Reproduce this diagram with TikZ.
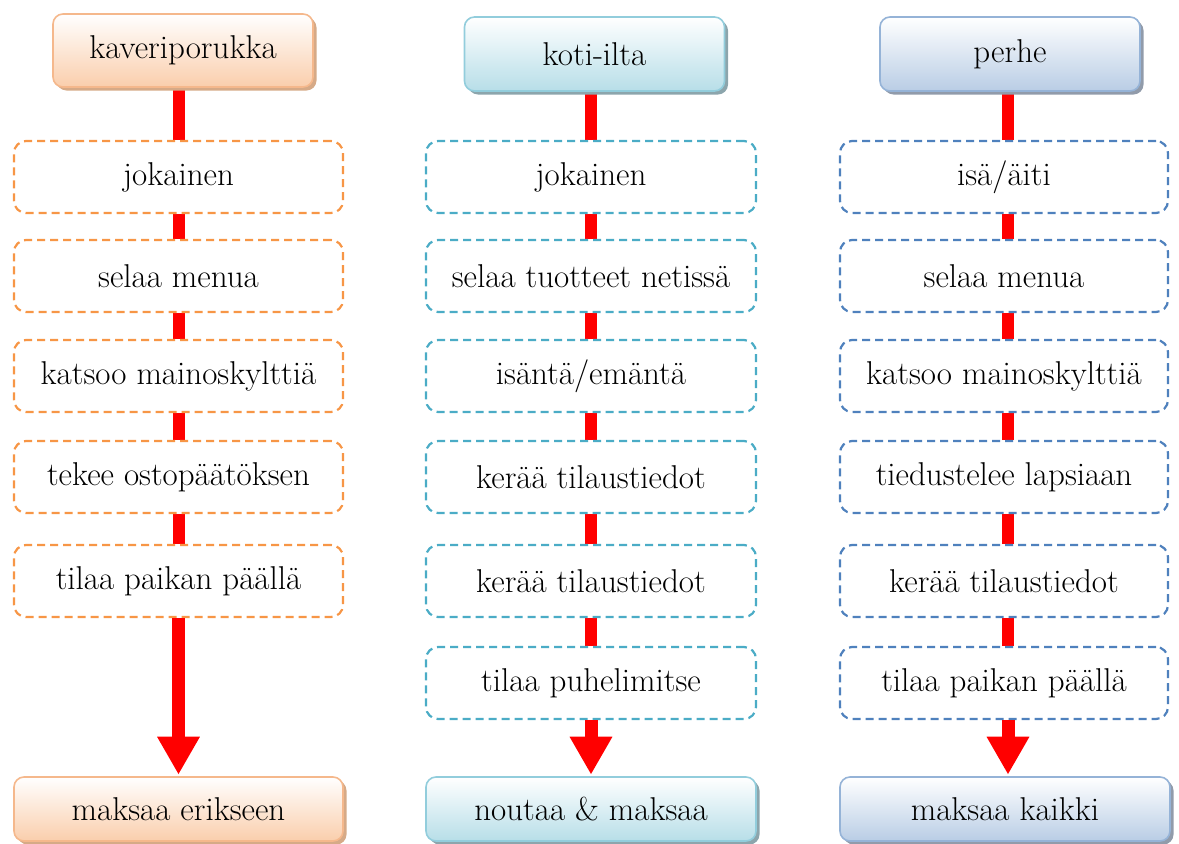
\documentclass[tikz,border=0pt]{standalone}
\usepackage{fontspec}
\usetikzlibrary{arrows.meta,shadows,backgrounds}
% colour sets: border line, gradient end, shadow, dashed step border
\definecolor{orline}{RGB}{245,184,140}
\definecolor{orfill}{RGB}{250,206,172}
\definecolor{orshadow}{RGB}{214,170,135}
\definecolor{ordash}{RGB}{247,150,70}
\definecolor{tqline}{RGB}{146,205,220}
\definecolor{tqfill}{RGB}{183,222,232}
\definecolor{tqshadow}{RGB}{140,165,172}
\definecolor{tqdash}{RGB}{75,172,198}
\definecolor{blline}{RGB}{149,179,215}
\definecolor{blfill}{RGB}{185,205,229}
\definecolor{blshadow}{RGB}{145,155,170}
\definecolor{bldash}{RGB}{79,129,189}
\begin{document}
\begin{tikzpicture}[x=1pt,y=-1pt,
  every node/.style={font=\fontsize{33}{38}\selectfont, inner sep=0pt, align=center},
  endbox/.style={rounded corners=10pt, draw=#1line, line width=1.6pt,
    top color=white, bottom color=#1fill, minimum width=260pt, minimum height=73pt,
    drop shadow={shadow xshift=3.5pt, shadow yshift=-3.5pt, fill=#1shadow, opacity=1}},
  stepbox/.style={draw=#1dash, dash pattern=on 8pt off 5pt, line width=2.2pt,
    rounded corners=12pt, minimum width=329pt, minimum height=72pt, fill=white},
  link/.style={draw=red, line width=12pt},
  bigarrow/.style={draw=red, line width=13pt, -{Triangle[width=40pt,length=38pt]}}
]
\path[use as bounding box] (0,0) rectangle (1179,844);

% column x positions of the connectors
\coordinate (x1) at (178.5,0);
\coordinate (x2) at (591,0);
\coordinate (x3) at (1008,0);

% --- first column
\node[endbox=or] (h1) at (183,50.5) {kaveriporukka};
\node[stepbox=or] (a1) at (178.5,177) {jokainen};
\node[stepbox=or] (a2) at (178.5,276) {selaa menua};
\node[stepbox=or] (a3) at (178.5,376) {katsoo mainoskylttiä};
\node[stepbox=or] (a4) at (178.5,477) {tekee ostopäätöksen};
\node[stepbox=or] (a5) at (178.5,581) {tilaa paikan päällä};
\node[endbox=or, minimum width=329pt, minimum height=64pt] (f1) at (178.5,809) {maksaa erikseen};

% --- second column
\node[endbox=tq, minimum height=74pt] (h2) at (594.5,54) {koti-ilta};
\node[stepbox=tq, minimum width=330pt] (b1) at (591,177) {jokainen};
\node[stepbox=tq, minimum width=330pt] (b2) at (591,276) {selaa tuotteet netissä};
\node[stepbox=tq, minimum width=330pt] (b3) at (591,376) {isäntä/emäntä};
\node[stepbox=tq, minimum width=330pt] (b4) at (591,477) {kerää tilaustiedot};
\node[stepbox=tq, minimum width=330pt] (b5) at (591,581) {kerää tilaustiedot};
\node[stepbox=tq, minimum width=330pt] (b6) at (591,683) {tilaa puhelimitse};
\node[endbox=tq, minimum width=330pt, minimum height=64pt] (f2) at (591,809) {noutaa \& maksaa};

% --- third column
\node[endbox=bl, minimum height=74pt] (h3) at (1010,54) {perhe};
\node[stepbox=bl, minimum width=328pt] (c1) at (1004,177) {isä/äiti};
\node[stepbox=bl, minimum width=328pt] (c2) at (1004,276) {selaa menua};
\node[stepbox=bl, minimum width=328pt] (c3) at (1004,376) {katsoo mainoskylttiä};
\node[stepbox=bl, minimum width=328pt] (c4) at (1004,477) {tiedustelee lapsiaan};
\node[stepbox=bl, minimum width=328pt] (c5) at (1004,581) {kerää tilaustiedot};
\node[stepbox=bl, minimum width=328pt] (c6) at (1004,683) {tilaa paikan päällä};
\node[endbox=bl, minimum width=330pt, minimum height=64pt] (f3) at (1005,809) {maksaa kaikki};

% --- connectors, behind the boxes
\begin{scope}[on background layer]
  \draw[link] (h1.south -| x1) -- (a1.north -| x1);
  \foreach \u/\v in {a1/a2,a2/a3,a3/a4,a4/a5}
    \draw[link] (\u.south -| x1) -- (\v.north -| x1);
  \draw[link] (h2.south -| x2) -- (b1.north -| x2);
  \foreach \u/\v in {b1/b2,b2/b3,b3/b4,b4/b5,b5/b6}
    \draw[link] (\u.south -| x2) -- (\v.north -| x2);
  \draw[link] (h3.south -| x3) -- (c1.north -| x3);
  \foreach \u/\v in {c1/c2,c2/c3,c3/c4,c4/c5,c5/c6}
    \draw[link] (\u.south -| x3) -- (\v.north -| x3);
\end{scope}

% --- final arrows into the payment boxes
\draw[bigarrow] (a5.south -| x1) -- ([yshift=1.5pt]f1.north -| x1);
\draw[bigarrow] (b6.south -| x2) -- ([yshift=1.5pt]f2.north -| x2);
\draw[bigarrow] (c6.south -| x3) -- ([yshift=1.5pt]f3.north -| x3);
\end{tikzpicture}
\end{document}
